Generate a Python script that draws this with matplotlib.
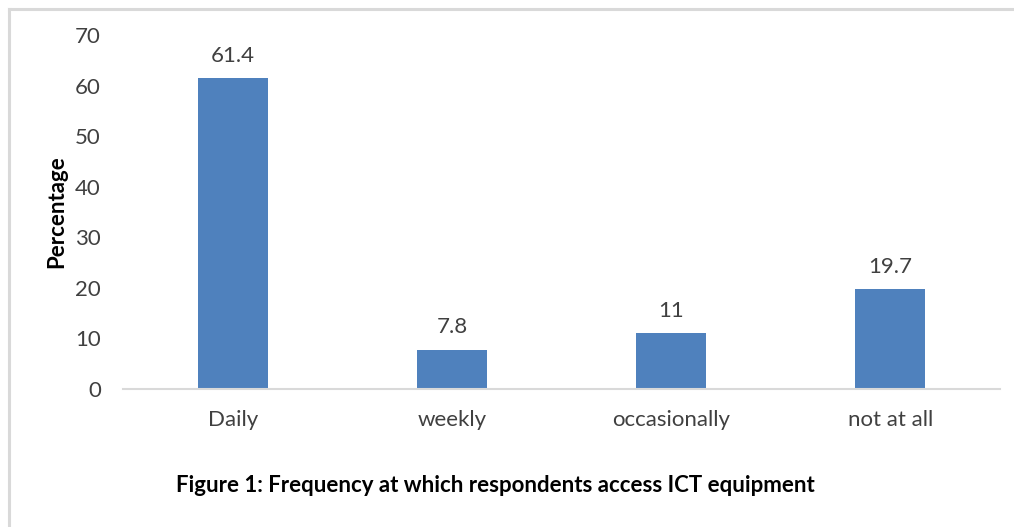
import matplotlib.pyplot as plt
from matplotlib.lines import Line2D

categories = ["Daily", "weekly", "occasionally", "not at all"]
percentages = [61.4, 7.8, 11, 19.7]
value_labels = ["61.4", "7.8", "11", "19.7"]
yticks = [0, 10, 20, 30, 40, 50, 60, 70]

plt.rcParams['font.family'] = ['Lato', 'DejaVu Sans']

W, H = 1014, 527
fig = plt.figure(figsize=(W / 100, H / 100), dpi=100)
ax = fig.add_axes([123 / W, 1 - 389 / H, (1000 - 123) / W, (389 - 35) / H])

x = list(range(len(categories)))
bars = ax.bar(x, percentages, width=0.32, color="#4F81BD", zorder=2)
for b, lab in zip(bars, value_labels):
    ax.annotate(lab, (b.get_x() + b.get_width() / 2, b.get_height()),
                xytext=(0, 9), textcoords="offset points",
                ha="center", va="bottom", fontsize=16, color="#404040")

ax.set_xlim(-0.5, len(categories) - 0.5)
ax.set_ylim(0, 70)
ax.set_yticks(yticks)
ax.set_yticklabels([str(t) for t in yticks], fontsize=16, color="#404040")
ax.set_xticks(x)
ax.set_xticklabels(categories, fontsize=16, color="#404040")
ax.tick_params(axis="both", length=0)
ax.tick_params(axis="y", pad=16)
ax.tick_params(axis="x", pad=15)

for s in ["top", "right", "left"]:
    ax.spines[s].set_visible(False)
ax.spines["bottom"].set_color("#D9D9D9")
ax.spines["bottom"].set_linewidth(1.5)

fig.text(57 / W, 1 - 212 / H, "Percentage", rotation=90, ha="center", va="center",
         fontsize=16, fontweight="bold", color="black")
fig.text(495 / W, 1 - 485 / H, "Figure 1: Frequency at which respondents access ICT equipment",
         ha="center", va="center", fontsize=16, fontweight="bold", color="black")

# outer frame, top and left edges only
fig.add_artist(Line2D([9 / W, 1], [1 - 9 / H, 1 - 9 / H], color="#D9D9D9", lw=2.2,
                      transform=fig.transFigure))
fig.add_artist(Line2D([9 / W, 9 / W], [0, 1 - 9 / H], color="#D9D9D9", lw=2.2,
                      transform=fig.transFigure))

fig.savefig("out.png", dpi=100)
